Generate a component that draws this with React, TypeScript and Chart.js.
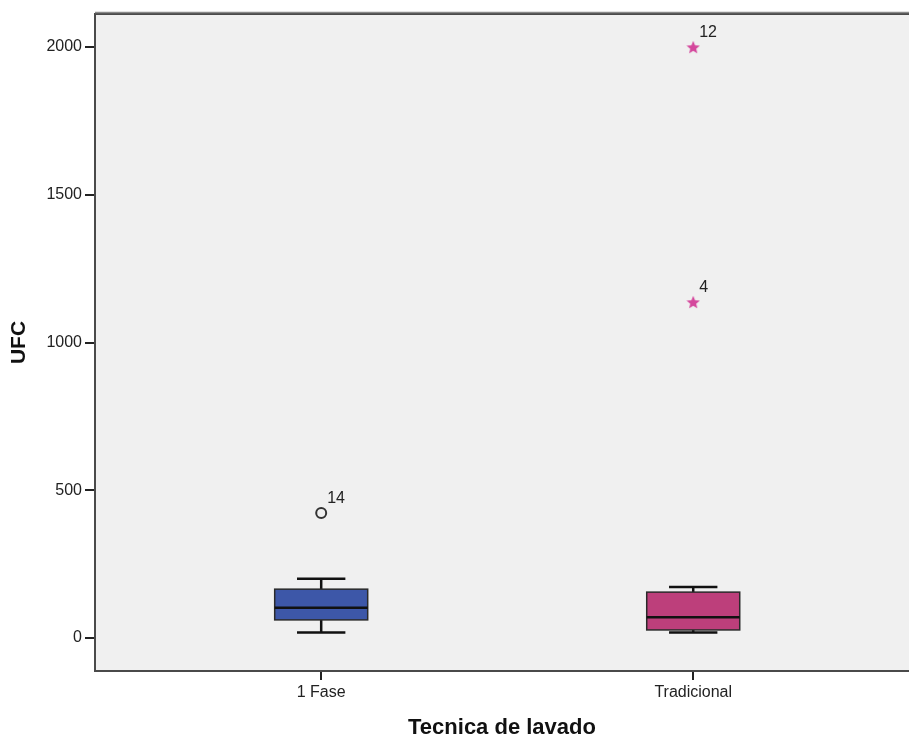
import React, { useEffect, useRef } from "react";
import { Chart, registerables } from "chart.js";

Chart.register(...registerables);

// ---- data ----
const categories = ["1 Fase", "Tradicional"];
const whiskerMin = [18, 18];
const quartile1 = [61, 27];
const medians = [102, 70];
const quartile3 = [165, 155];
const whiskerMax = [200, 172];
const boxColors = ["#3d57a8", "#bd3f7b"];

const outlierCategory = [0]; // mild outliers (circles)
const outlierValues = [423];
const outlierLabels = ["14"];

const extremeCategory = [1, 1]; // extreme outliers (stars)
const extremeValues = [2000, 1137];
const extremeLabels = ["12", "4"];

const yTicks = [0, 500, 1000, 1500, 2000];

const FONT = "Arial, 'Liberation Sans', sans-serif";

function makeStar(color: string, size: number) {
  const c = document.createElement("canvas");
  c.width = size;
  c.height = size;
  const g = c.getContext("2d")!;
  const cx = size / 2;
  const cy = size / 2;
  const ro = size / 2;
  const ri = ro * 0.45;
  g.beginPath();
  for (let k = 0; k < 10; k++) {
    const r = k % 2 === 0 ? ro : ri;
    const a = -Math.PI / 2 + (k * Math.PI) / 5;
    const px = cx + r * Math.cos(a);
    const py = cy + r * Math.sin(a) + size * 0.05;
    if (k === 0) g.moveTo(px, py);
    else g.lineTo(px, py);
  }
  g.closePath();
  g.fillStyle = color;
  g.fill();
  return c;
}

const boxPlugin = {
  id: "boxplot",
  beforeDatasetsDraw(chart: any) {
    const { ctx, chartArea, scales } = chart;
    const x = scales.x;
    const y = scales.y;
    ctx.save();
    ctx.fillStyle = "#f0f0f0";
    ctx.fillRect(chartArea.left, chartArea.top, chartArea.right - chartArea.left, chartArea.bottom - chartArea.top);
    const boxHalf = 0.125;
    const capHalf = 0.065;
    categories.forEach((_, i) => {
      const c = i + 1;
      const xl = x.getPixelForValue(c - boxHalf);
      const xr = x.getPixelForValue(c + boxHalf);
      const xc = x.getPixelForValue(c);
      const cl = x.getPixelForValue(c - capHalf);
      const cr = x.getPixelForValue(c + capHalf);
      const yMin = y.getPixelForValue(whiskerMin[i]);
      const yMax = y.getPixelForValue(whiskerMax[i]);
      const yQ1 = y.getPixelForValue(quartile1[i]);
      const yQ3 = y.getPixelForValue(quartile3[i]);
      const yMed = y.getPixelForValue(medians[i]);
      ctx.strokeStyle = "#111";
      ctx.lineWidth = 2.5;
      ctx.beginPath();
      ctx.moveTo(xc, yQ3);
      ctx.lineTo(xc, yMax);
      ctx.moveTo(cl, yMax);
      ctx.lineTo(cr, yMax);
      ctx.moveTo(xc, yQ1);
      ctx.lineTo(xc, yMin);
      ctx.moveTo(cl, yMin);
      ctx.lineTo(cr, yMin);
      ctx.stroke();
      ctx.fillStyle = boxColors[i];
      ctx.fillRect(xl, yQ3, xr - xl, yQ1 - yQ3);
      ctx.lineWidth = 1.5;
      ctx.strokeStyle = "#2a2a2a";
      ctx.strokeRect(xl, yQ3, xr - xl, yQ1 - yQ3);
      ctx.lineWidth = 2.5;
      ctx.strokeStyle = "#111";
      ctx.beginPath();
      ctx.moveTo(xl, yMed);
      ctx.lineTo(xr, yMed);
      ctx.stroke();
    });
    ctx.restore();
  },
  afterDatasetsDraw(chart: any) {
    const { ctx, chartArea } = chart;
    ctx.save();
    // labels for outliers
    ctx.font = "16px " + FONT;
    ctx.fillStyle = "#222";
    ctx.textAlign = "left";
    ctx.textBaseline = "middle";
    const labelSets = [outlierLabels, extremeLabels];
    labelSets.forEach((labels, di) => {
      const meta = chart.getDatasetMeta(di);
      meta.data.forEach((pt: any, j: number) => {
        ctx.fillText(labels[j], pt.x + 6, pt.y - 14);
      });
    });
    // frame
    ctx.strokeStyle = "#4a4a4a";
    ctx.lineWidth = 2;
    ctx.beginPath();
    ctx.moveTo(chartArea.right + 2, chartArea.top);
    ctx.lineTo(chartArea.left, chartArea.top);
    ctx.lineTo(chartArea.left, chartArea.bottom);
    ctx.lineTo(chartArea.right + 2, chartArea.bottom);
    ctx.stroke();
    ctx.strokeStyle = "#8a8a8a";
    ctx.lineWidth = 1.5;
    ctx.beginPath();
    ctx.moveTo(chartArea.left, chartArea.top - 1.5);
    ctx.lineTo(chartArea.right + 2, chartArea.top - 1.5);
    ctx.stroke();
    ctx.restore();
  },
};

export default function App() {
  const ref = useRef<HTMLCanvasElement | null>(null);
  useEffect(() => {
    if (!ref.current) return;
    const star = makeStar("#d4479c", 14);
    const chart = new Chart(ref.current, {
      type: "scatter",
      data: {
        datasets: [
          {
            label: "outliers",
            data: outlierValues.map((v, i) => ({ x: outlierCategory[i] + 1, y: v })),
            pointStyle: "circle",
            pointRadius: 5,
            borderColor: "#333",
            backgroundColor: "rgba(0,0,0,0)",
            borderWidth: 2,
          },
          {
            label: "extremes",
            data: extremeValues.map((v, i) => ({ x: extremeCategory[i] + 1, y: v })),
            pointStyle: star as any,
            pointRadius: 7,
            borderColor: "#d4479c",
            backgroundColor: "#d4479c",
          },
        ],
      },
      options: {
        animation: false,
        responsive: false,
        layout: { autoPadding: false, padding: { left: 0, top: 14, right: 0, bottom: 0 } },
        plugins: { legend: { display: false }, tooltip: { enabled: false } },
        scales: {
          x: {
            type: "linear",
            min: 0.392,
            max: 2.58,
            afterBuildTicks: (scale: any) => {
              scale.ticks = categories.map((_, i) => ({ value: i + 1 }));
            },
            afterFit: (scale: any) => {
              scale.height = 67;
              scale.paddingLeft = 0;
              scale.paddingRight = 0;
            },
            border: { display: false },
            grid: { drawOnChartArea: false, drawTicks: true, tickLength: 9, color: "#222", lineWidth: 2 },
            ticks: {
              padding: 3,
              color: "#222",
              font: { family: FONT, size: 16 },
              maxRotation: 0,
              callback: (v: any) => categories[Math.round(Number(v)) - 1] ?? "",
            },
            title: {
              display: true,
              text: "Tecnica de lavado",
              color: "#111",
              font: { family: FONT, size: 22, weight: "bold" },
              padding: { top: 0, bottom: -3 },
            },
          },
          y: {
            type: "linear",
            min: -112,
            max: 2112,
            afterBuildTicks: (scale: any) => {
              scale.ticks = yTicks.map((v) => ({ value: v }));
            },
            afterFit: (scale: any) => {
              scale.width = 95;
              scale.paddingTop = 0;
              scale.paddingBottom = 0;
            },
            border: { display: false },
            grid: { drawOnChartArea: false, drawTicks: true, tickLength: 10, color: "#222", lineWidth: 2 },
            ticks: {
              padding: 3,
              color: "#222",
              font: { family: FONT, size: 16 },
              callback: (v: any) => String(v),
            },
            title: {
              display: true,
              text: "UFC",
              color: "#111",
              font: { family: FONT, size: 21, weight: "bold" },
              padding: { top: 7, bottom: 0 },
            },
          },
        },
      },
      plugins: [boxPlugin],
    });
    return () => chart.destroy();
  }, []);
  return (
    <canvas
      ref={ref}
      width={909}
      height={738}
      style={{ position: "fixed", left: 0, top: 0, width: 909, height: 738, display: "block" }}
    />
  );
}
